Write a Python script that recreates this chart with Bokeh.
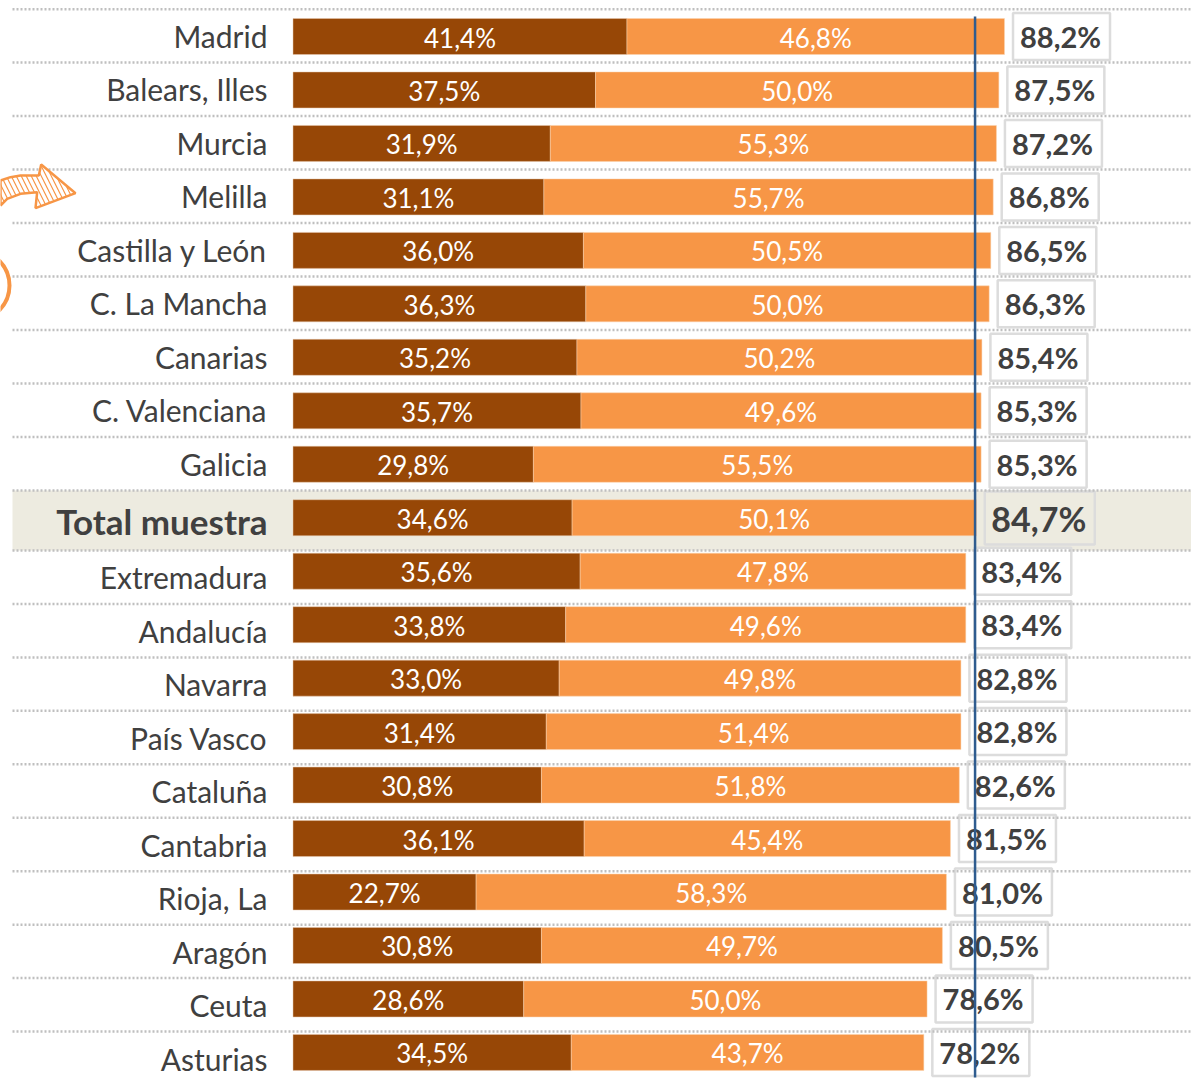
from bokeh.plotting import figure
from bokeh.models import Range1d
from bokeh.core.properties import value
from bokeh.embed import file_html
from bokeh.resources import INLINE

regions = ["Madrid", "Balears, Illes", "Murcia", "Melilla", "Castilla y León", "C. La Mancha",
           "Canarias", "C. Valenciana", "Galicia", "Total muestra", "Extremadura", "Andalucía",
           "Navarra", "País Vasco", "Cataluña", "Cantabria", "Rioja, La", "Aragón", "Ceuta", "Asturias"]
first = [41.4, 37.5, 31.9, 31.1, 36.0, 36.3, 35.2, 35.7, 29.8, 34.6,
         35.6, 33.8, 33.0, 31.4, 30.8, 36.1, 22.7, 30.8, 28.6, 34.5]
second = [46.8, 50.0, 55.3, 55.7, 50.5, 50.0, 50.2, 49.6, 55.5, 50.1,
          47.8, 49.6, 49.8, 51.4, 51.8, 45.4, 58.3, 49.7, 50.0, 43.7]
totals = [88.2, 87.5, 87.2, 86.8, 86.5, 86.3, 85.4, 85.3, 85.3, 84.7,
          83.4, 83.4, 82.8, 82.8, 82.6, 81.5, 81.0, 80.5, 78.6, 78.2]
reference = 84.55
TOTAL = 9

W, H = 1191, 1081
PX = 8.067
ROW = 53.47
def dx(px): return (px - 292.5) / PX
def dy(py): return (py - 36) / ROW
def fmt(v): return f"{v:.1f}".replace(".", ",") + "%"

p = figure(width=W, height=H, output_backend="svg", toolbar_location=None,
           x_range=Range1d(dx(0), dx(W)), y_range=Range1d(dy(H), dy(0)),
           min_border=0, outline_line_color=None)
p.axis.visible = False
p.grid.visible = False
p.background_fill_color = "white"
p.border_fill_color = "white"

FONT = value("Lato")
INK = "#404040"
rows = list(range(len(regions)))

# highlighted band
p.quad(left=[dx(12)], right=[dx(1191)], top=[dy(490)], bottom=[dy(550)],
       fill_color="#EDEBE0", line_color=None)

# bars
ends = [a + b for a, b in zip(first, second)]
p.hbar(y=rows, left=0, right=first, height=36 / ROW, fill_color="#974706",
       line_color="#E6C9AE", line_width=0.5)
p.hbar(y=rows, left=first, right=ends, height=36 / ROW, fill_color="#F79646",
       line_color="#FBD5B0", line_width=0.5)

# value boxes
bw = [110 if i == TOTAL else 97 for i in rows]
bh = [53 if i == TOTAL else 47 for i in rows]
box_left = [t + 8.5 / PX for t in totals]
box_right = [l + w / PX for l, w in zip(box_left, bw)]
box_y = list(rows)
box_y[TOTAL] = dy(517.5)
box_top = [y - h / 2 / ROW for y, h in zip(box_y, bh)]
box_bot = [y + h / 2 / ROW for y, h in zip(box_y, bh)]
fills = ["#EDEBE0" if i == TOTAL else "white" for i in rows]
p.quad(left=box_left, right=box_right, top=box_top, bottom=box_bot,
       fill_color=fills, line_color="#DCDCDC", line_width=2.5)

# dotted separators
lines = [8.7] + [62 + 53.5 * k for k in range(9)] + [550 + 53.45 * k for k in range(10)]
p.multi_line(xs=[[dx(12), dx(1191)] for _ in lines], ys=[[dy(v), dy(v)] for v in lines],
             line_color="#BFBFBF", line_width=2.5, line_dash="2 2")

# category labels
label_y = [35.5 + ROW * i for i in range(9)] + [520.5] + [576.5 + 53.5 * k for k in range(10)]
sizes = ["35px" if i == TOTAL else "30px" for i in rows]
styles = ["bold" if i == TOTAL else "normal" for i in rows]
p.text(x=[dx(267)] * len(rows), y=[dy(v) for v in label_y], text=regions, text_font=FONT,
       text_font_size=sizes, text_font_style=styles, text_color=INK,
       text_align="right", text_baseline="middle")

# segment labels
mid1 = [a / 2 for a in first]
mid2 = [a + b / 2 for a, b in zip(first, second)]
seg_y = [r + 1 / ROW for r in rows]
p.text(x=mid1, y=seg_y, text=[fmt(v) for v in first], text_font=FONT, text_font_size="26px",
       text_color="white", text_align="center", text_baseline="middle")
p.text(x=mid2, y=seg_y, text=[fmt(v) for v in second], text_font=FONT, text_font_size="26px",
       text_color="white", text_align="center", text_baseline="middle")

# total labels
tx = [(l + r) / 2 - 1 / PX for l, r in zip(box_left, box_right)]
tsize = ["34px" if i == TOTAL else "29px" for i in rows]
p.text(x=tx, y=box_y, text=[fmt(v) for v in totals], text_font=FONT, text_font_size=tsize,
       text_font_style="bold", text_color=INK, text_align="center", text_baseline="middle")

# reference line
p.line(x=[reference, reference], y=[dy(16), dy(1077)], line_color="#2F5C8F", line_width=2.5)

# decorative arrow and ring
arrow = [(0, 150), (30, 140), (60, 135), (115, 135), (122, 102), (225, 188), (105, 233), (110, 185),
         (60, 190), (20, 205), (0, 225)]
p.patch(x=[dx(a / 3) for a, b in arrow], y=[dy(b / 3 + 130) for a, b in arrow],
        fill_color="white", line_color="#F79646", line_width=2.5,
        hatch_pattern="left_diagonal_line", hatch_color="#F79646", hatch_scale=10, hatch_weight=1.2)
p.circle(x=[dx(-26)], y=[dy(285)], radius=35 / PX, fill_color=None,
         line_color="#F79646", line_width=4)

open("out.html", "w").write(file_html(p, INLINE))
